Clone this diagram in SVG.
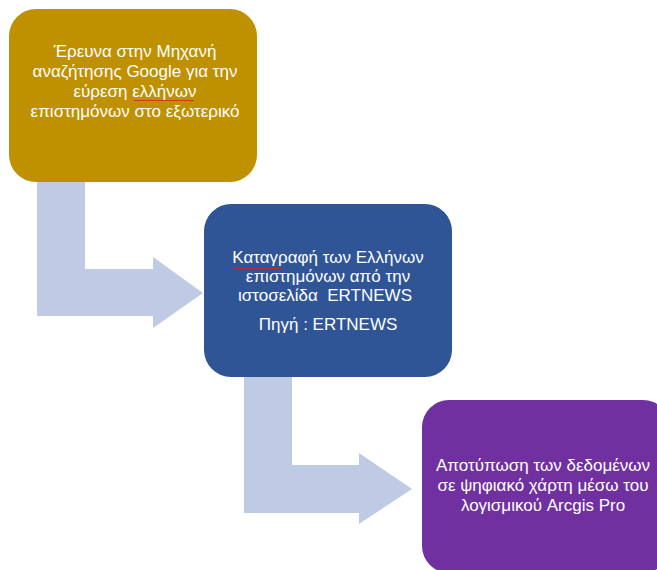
<svg xmlns="http://www.w3.org/2000/svg" width="657" height="570" viewBox="0 0 657 570">
<style>
.t{font-family:"Liberation Sans","DejaVu Sans",sans-serif;font-size:17px;fill:#ffffff;text-anchor:middle;white-space:pre}
.arrow{fill:#bfcae4}
</style>
<defs>
<pattern id="wave" width="4" height="3" patternUnits="userSpaceOnUse">
<path d="M0,2 L1,1 L2,2 L3,1 L4,2" fill="none" stroke="#e02020" stroke-width="0.8"/>
</pattern>
</defs>
<rect width="657" height="570" fill="#ffffff"/>
<g id="connectors">
<path class="arrow" d="M37,182 H85 V269 H153 V257 L203,293 L153,328 V316 H37 Z"/>
<path class="arrow" d="M244,377 H292 V465 H359 V453 L412,489 L359,524 V513 H244 Z"/>
</g>
<g id="node1">
<rect x="9" y="9" width="248" height="173" rx="27" ry="27" fill="#bf9000"/>
<text class="t" x="135" y="57">Έρευνα στην Μηχανή</text>
<text class="t" x="135" y="77">αναζήτησης Google για την</text>
<text class="t" x="135" y="97">εύρεση ελλήνων</text>
<text class="t" x="135" y="117">επιστημόνων στο εξωτερικό</text>
<rect x="134" y="98" width="60" height="3" fill="url(#wave)"/>
</g>
<g id="node2">
<rect x="204" y="204" width="248" height="173" rx="27" ry="27" fill="#2f5597"/>
<text class="t" x="328" y="263">Καταγραφή των Ελλήνων</text>
<text class="t" x="328" y="282">επιστημόνων από την</text>
<text class="t" x="325" y="301" xml:space="preserve">ιστοσελίδα  ERTNEWS</text>
<text class="t" x="328" y="330">Πηγή : ERTNEWS</text>
<rect x="234" y="266" width="48" height="3" fill="url(#wave)"/>
</g>
<g id="node3">
<rect x="422" y="400" width="248" height="173" rx="27" ry="27" fill="#7030a0"/>
<text class="t" x="543" y="471">Αποτύπωση των δεδομένων</text>
<text class="t" x="543" y="491">σε ψηφιακό χάρτη μέσω του</text>
<text class="t" x="543" y="511">λογισμικού Arcgis Pro</text>
</g>
</svg>
